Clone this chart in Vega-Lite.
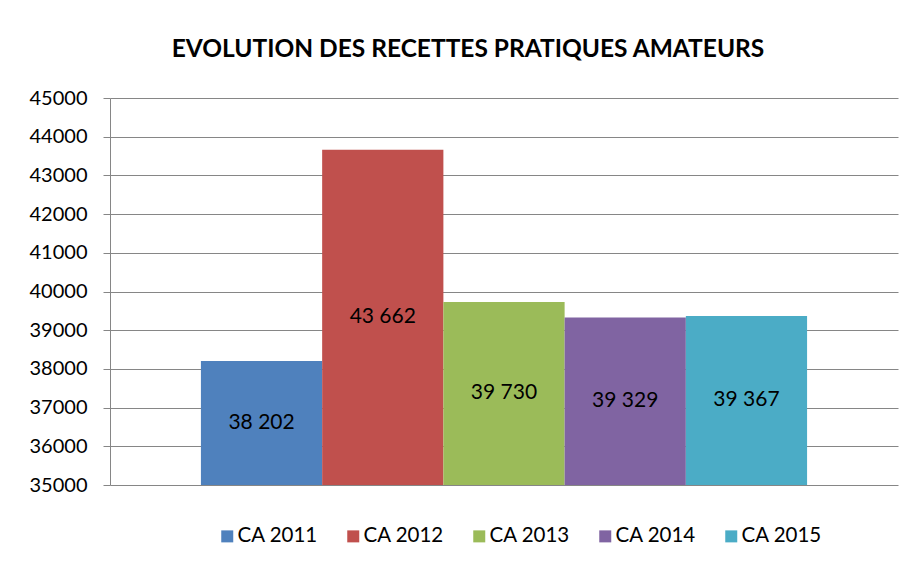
{
  "$schema": "https://vega.github.io/schema/vega-lite/v6.json",
  "width": 788,
  "height": 387,
  "autosize": {"type": "none"},
  "padding": {"left": 110, "top": 98, "right": 18, "bottom": 78},
  "background": "white",
  "config": {
    "font": "Lato",
    "view": {"stroke": null},
    "locale": {"number": {"decimal": ",", "thousands": " ", "grouping": [3], "currency": ["", ""]}}
  },
  "title": {
    "text": "EVOLUTION DES RECETTES PRATIQUES AMATEURS",
    "fontSize": 24.5,
    "fontWeight": "bold",
    "color": "black",
    "anchor": "middle",
    "offset": 26,
    "dx": -36
  },
  "data": {
    "values": [
      {"serie": "CA 2011", "valeur": 38202},
      {"serie": "CA 2012", "valeur": 43662},
      {"serie": "CA 2013", "valeur": 39730},
      {"serie": "CA 2014", "valeur": 39329},
      {"serie": "CA 2015", "valeur": 39367}
    ]
  },
  "layer": [
    {
      "mark": {"type": "bar", "clip": true},
      "encoding": {
        "x": {"field": "serie", "type": "nominal", "sort": null, "axis": null,
              "scale": {"paddingInner": 0, "paddingOuter": 0.75}},
        "y": {"field": "valeur", "type": "quantitative",
              "scale": {"domain": [35000, 45000], "zero": false, "nice": false},
              "axis": {
                "title": null,
                "values": [35000, 36000, 37000, 38000, 39000, 40000, 41000, 42000, 43000, 44000, 45000],
                "format": "d",
                "labelFontSize": 20,
                "labelColor": "black",
                "labelPadding": 16,
                "tickSize": 7,
                "tickColor": "#868686",
                "domainColor": "#868686",
                "gridColor": "#868686",
                "grid": true,
                "gridOpacity": 1,
                "tickWidth": 1,
                "domainWidth": 1,
                "gridWidth": 1
              }},
        "color": {"field": "serie", "type": "nominal",
                  "scale": {"domain": ["CA 2011", "CA 2012", "CA 2013", "CA 2014", "CA 2015"],
                            "range": ["#4F81BD", "#C0504D", "#9BBB59", "#8064A2", "#4BACC6"]},
                  "legend": {
                    "title": null,
                    "orient": "none",
                    "legendX": 107,
                    "legendY": 428,
                    "direction": "horizontal",
                    "symbolType": "square",
                    "symbolSize": 144,
                    "symbolStrokeWidth": 0,
                    "labelFontSize": 20.5,
                    "labelColor": "black",
                    "labelOffset": 0,
                    "columnPadding": 25
                  }}
      }
    },
    {
      "mark": {"type": "text", "fontSize": 21, "color": "black", "baseline": "middle"},
      "encoding": {
        "x": {"field": "serie", "type": "nominal", "sort": null, "axis": null,
              "scale": {"paddingInner": 0, "paddingOuter": 0.75}},
        "y": {"field": "valeur", "type": "quantitative",
              "scale": {"domain": [35000, 55000], "zero": false, "nice": false},
              "axis": null},
        "text": {"field": "valeur", "type": "quantitative", "format": ",d"}
      }
    }
  ],
  "resolve": {"scale": {"y": "independent"}}
}
